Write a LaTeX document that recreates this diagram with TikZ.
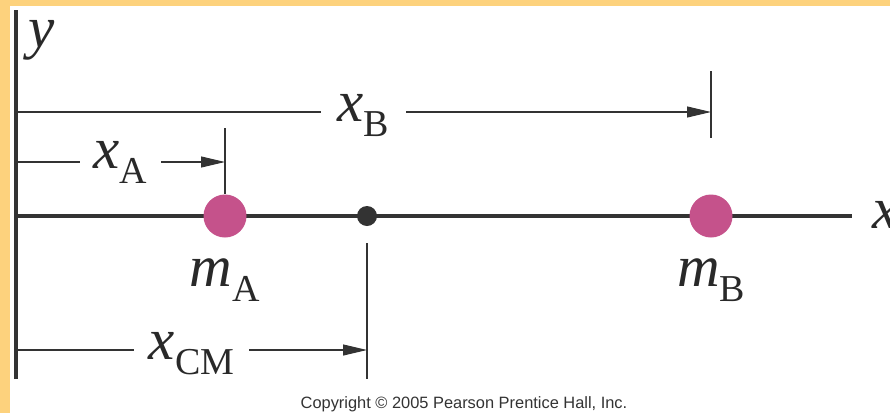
\documentclass[tikz,border=0pt]{standalone}
\usepackage{fontspec}
\setmainfont{Liberation Serif}
\newfontfamily\copyfont{Liberation Sans}
\usetikzlibrary{arrows.meta, positioning}
\definecolor{massPink}{HTML}{C5528B}
\definecolor{axisGray}{HTML}{333333}
\definecolor{frameGold}{HTML}{FDD27D}
\newcommand{\sublab}[2]{\textit{#1}\raisebox{-15pt}{\fontsize{38}{38}\selectfont #2}}

\begin{document}
\begin{tikzpicture}[
    x=1pt, y=-1pt,
    axis/.style={draw=axisGray, line width=3.5pt},
    dim/.style={draw=axisGray, line width=1.1pt},
    arr/.style={dim, -{Triangle[length=24pt, width=11pt]}},
    lab/.style={inner sep=0pt, font=\fontsize{59}{59}\selectfont, text=axisGray!80!black},
    gaplab/.style={lab, fill=white, inner xsep=15pt},
    mass/.style={circle, fill=massPink, minimum size=43pt, inner sep=0pt},
    cmdot/.style={circle, fill=axisGray, minimum size=20pt, inner sep=0pt}
  ]
  \useasboundingbox (0,0) rectangle (890,413);
  \fill[white] (0,0) rectangle (890,413);
  \fill[frameGold] (0,0) rectangle (890,6);
  \fill[frameGold] (0,0) rectangle (10,413);

  % axes
  \coordinate (ytop) at (16,10);
  \coordinate (ybot) at (16,379);
  \coordinate (origin) at (16,216);
  \coordinate (xend) at (852,216);
  \draw[axis] (ybot) -- (ytop);
  \draw[axis] (origin) -- (xend);
  \node[lab, anchor=base west] (ylab) at (28,47) {\textit{y}};
  \node[lab, anchor=base west] (xlab) at (872,228) {\textit{x}};

  % masses
  \node[mass] (mA) at (225,216) {};
  \node[mass] (mB) at (711,216) {};
  \node[cmdot] (cm) at (367,216) {};
  \node[lab, below=21pt of mA] (mAlab) {\sublab{m}{A}};
  \node[lab, below=21pt of mB] (mBlab) {\sublab{m}{B}};

  % tick marks
  \coordinate (tickA) at (225,128);
  \coordinate (tickBtop) at (711,71);
  \coordinate (tickBbot) at (711,138);
  \coordinate (tickCMtop) at (367,243);
  \coordinate (tickCMbot) at (367,379);
  \draw[dim] (tickA) -- (mA.north);
  \draw[dim] (tickBtop) -- (tickBbot);
  \draw[dim] (tickCMtop) -- (tickCMbot);

  % distances
  \coordinate (xBstart) at (16,112);
  \coordinate (xBend) at (711,112);
  \coordinate (xAstart) at (16,162);
  \coordinate (xAend) at (225,162);
  \coordinate (xCMstart) at (16,350);
  \coordinate (xCMend) at (367,350);
  \draw[arr] (xBstart) -- node[gaplab, yshift=-4pt, inner xsep=17pt] (xBlab) {\sublab{x}{B}} (xBend);
  \draw[arr] (xAstart) -- node[gaplab, inner xsep=14pt] (xAlab) {\sublab{x}{A}} (xAend);
  \draw[arr] (xCMstart) -- node[gaplab, yshift=-4pt] (xCMlab) {\sublab{x}{CM}} (xCMend);

  \node[font=\copyfont\fontsize{16.4}{16.4}\selectfont, text=axisGray] (copy) at (464,404)
    {Copyright \textcopyright{} 2005 Pearson Prentice Hall, Inc.};
\end{tikzpicture}
\end{document}
